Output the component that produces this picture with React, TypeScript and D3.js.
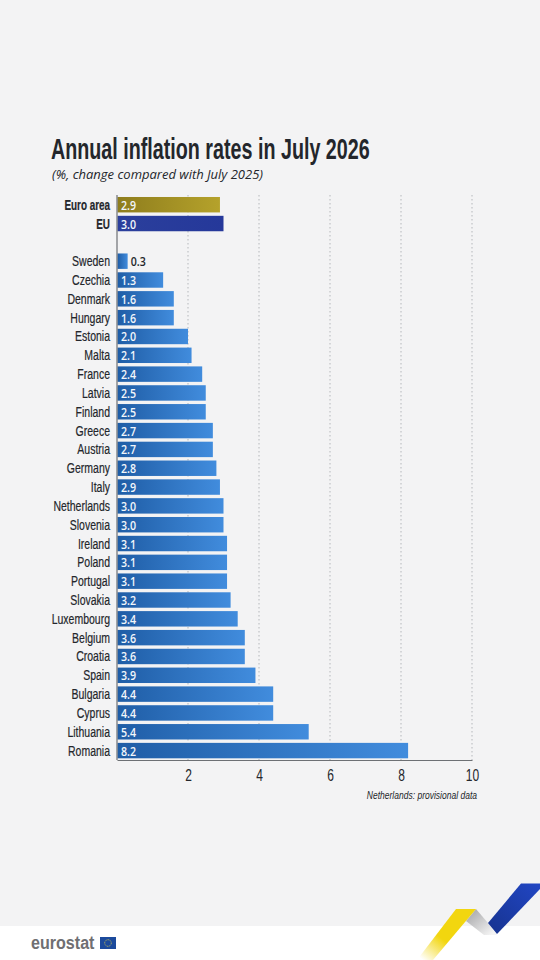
import { useEffect, useRef } from "react";
import * as d3 from "d3";

const summaryNames = ["Euro area", "EU"];
const summaryValues = [2.9, 3.0];
const countries = [
  "Sweden", "Czechia", "Denmark", "Hungary", "Estonia", "Malta", "France", "Latvia", "Finland",
  "Greece", "Austria", "Germany", "Italy", "Netherlands", "Slovenia", "Ireland", "Poland",
  "Portugal", "Slovakia", "Luxembourg", "Belgium", "Croatia", "Spain", "Bulgaria", "Cyprus",
  "Lithuania", "Romania",
];
const countryValues = [
  0.3, 1.3, 1.6, 1.6, 2.0, 2.1, 2.4, 2.5, 2.5, 2.7, 2.7, 2.8, 2.9, 3.0, 3.0, 3.1, 3.1, 3.1, 3.2,
  3.4, 3.6, 3.6, 3.9, 4.4, 4.4, 5.4, 8.2,
];
const xTicks = [2, 4, 6, 8, 10];

// no condensed font is installed, so Liberation Sans gets squeezed horizontally
const sans = "'Liberation Sans', sans-serif";
const squeeze = (px: number, py: number, k: number) => `translate(${px},${py}) scale(${k},1)`;

const App = () => {
  const svgRef = useRef<SVGSVGElement>(null);

  useEffect(() => {
    document.body.style.margin = "0";
    const svg = d3.select(svgRef.current);
    svg.selectAll("*").remove();

    const width = 540;
    const height = 960;

    const rows = [...summaryNames, "", ...countries];
    const values = [...summaryValues, NaN, ...countryValues];

    const x = d3.scaleLinear().domain([0, 10]).range([117, 472]);
    const y = d3.scaleBand().domain(rows).range([195.3, 760]).paddingInner(0.18).paddingOuter(0.09);

    const defs = svg.append("defs");
    const addGradient = (id: string, from: string, to: string) => {
      const g = defs.append("linearGradient").attr("id", id);
      g.append("stop").attr("offset", "0%").attr("stop-color", from);
      g.append("stop").attr("offset", "100%").attr("stop-color", to);
    };
    addGradient("barCountry", "#1f5da6", "#418cdd");
    addGradient("barEuro", "#8e7d1d", "#b5a22b");
    addGradient("barEu", "#2b3f9c", "#25389a");
    const fade = defs.append("linearGradient").attr("id", "ribbonYellow")
      .attr("x1", "0.75").attr("y1", "0.3").attr("x2", "0.1").attr("y2", "1");
    fade.append("stop").attr("offset", "45%").attr("stop-color", "#f2d60f");
    fade.append("stop").attr("offset", "100%").attr("stop-color", "#f2d60f").attr("stop-opacity", 0);
    const grayFade = defs.append("linearGradient").attr("id", "ribbonGray")
      .attr("x1", "0.1").attr("y1", "0.1").attr("x2", "0.9").attr("y2", "0.9");
    grayFade.append("stop").attr("offset", "0%").attr("stop-color", "#a9a9ab");
    grayFade.append("stop").attr("offset", "100%").attr("stop-color", "#f4f4f4");
    const blueFade = defs.append("linearGradient").attr("id", "ribbonBlue")
      .attr("x1", "1").attr("y1", "0").attr("x2", "0").attr("y2", "1");
    blueFade.append("stop").attr("offset", "0%").attr("stop-color", "#2146c4");
    blueFade.append("stop").attr("offset", "100%").attr("stop-color", "#17338f");

    // background panel + white footer
    svg.append("rect").attr("width", width).attr("height", height).attr("fill", "#ffffff");
    svg.append("rect").attr("width", width).attr("height", 926).attr("fill", "#f3f3f4");

    // title
    svg.append("text").attr("transform", squeeze(51, 159, 0.68))
      .attr("font-family", sans).attr("font-weight", 700).attr("font-size", 29)
      .attr("fill", "#23262b").text("Annual inflation rates in July 2026");
    svg.append("text").attr("x", 52).attr("y", 179)
      .attr("font-family", "'Open Sans', sans-serif").attr("font-style", "italic").attr("font-size", 13)
      .attr("fill", "#23262b").text("(%, change compared with July 2025)");

    // grid
    svg.append("g").selectAll("line").data(xTicks).enter().append("line")
      .attr("x1", (d) => x(d)).attr("x2", (d) => x(d))
      .attr("y1", 195).attr("y2", 760)
      .attr("stroke", "#b4b7bb").attr("stroke-width", 1).attr("stroke-dasharray", "1.5 2.5");

    // bars
    const data = rows.map((name, i) => ({ name, value: values[i] })).filter((d) => d.name !== "");
    svg.append("g").selectAll("rect").data(data).enter().append("rect")
      .attr("x", x(0) + 0.5)
      .attr("y", (d) => y(d.name)!)
      .attr("width", (d) => x(d.value) - x(0) - 0.5)
      .attr("height", y.bandwidth())
      .attr("fill", (d) =>
        d.name === "Euro area" ? "url(#barEuro)" : d.name === "EU" ? "url(#barEu)" : "url(#barCountry)"
      );

    // value labels
    svg.append("g").selectAll("text").data(data).enter().append("text")
      .attr("transform", (d) =>
        squeeze(d.value < 1 ? x(d.value) + 3 : x(0) + 4, y(d.name)! + y.bandwidth() / 2 + 5, 0.82)
      )
      .attr("font-family", "'Open Sans', sans-serif").attr("font-weight", 600).attr("font-size", 13)
      .attr("fill", (d) => (d.value < 1 ? "#23262b" : "#f2f6fb"))
      .text((d) => d.value.toFixed(1));

    // category labels
    svg.append("g").selectAll("text").data(data).enter().append("text")
      .attr("transform", (d) =>
        squeeze(110, y(d.name)! + y.bandwidth() / 2 + 5, summaryNames.includes(d.name) ? 0.66 : 0.7)
      )
      .attr("text-anchor", "end")
      .attr("font-family", sans).attr("font-size", 15)
      .attr("font-weight", (d) => (summaryNames.includes(d.name) ? 700 : 400))
      .attr("fill", "#23262b").attr("stroke", "#23262b").attr("stroke-width", 0.2)
      .text((d) => d.name);

    // axes
    svg.append("line").attr("x1", x(0)).attr("x2", x(0)).attr("y1", 195).attr("y2", 760)
      .attr("stroke", "#6d7074").attr("stroke-width", 1.2);
    const axis = svg.append("g").attr("transform", "translate(0,760)")
      .call(d3.axisBottom(x).tickValues(xTicks).tickSize(0).tickPadding(10));
    axis.select(".domain").attr("stroke", "#6d7074").attr("stroke-width", 1.2);
    axis.selectAll("text")
      .attr("transform", "scale(0.75,1)")
      .attr("font-family", sans).attr("font-size", 16).attr("fill", "#23262b");

    svg.append("text").attr("transform", squeeze(477, 799, 0.74)).attr("text-anchor", "end")
      .attr("font-family", sans).attr("font-style", "italic").attr("font-size", 11.5)
      .attr("fill", "#23262b").text("Netherlands: provisional data");

    // eurostat logo
    svg.append("text").attr("transform", squeeze(31, 949, 0.87))
      .attr("font-family", sans).attr("font-weight", 700).attr("font-size", 18.5)
      .attr("fill", "#6f6f72").text("eurostat");
    svg.append("rect").attr("x", 100).attr("y", 937).attr("width", 16).attr("height", 12).attr("fill", "#1c4a9c");
    svg.append("circle").attr("cx", 108).attr("cy", 943).attr("r", 3.3)
      .attr("fill", "none").attr("stroke", "#d9c94a").attr("stroke-width", 0.8).attr("stroke-dasharray", "1 0.7");

    // ribbon
    svg.append("path").attr("d", "M476,909 L466,921 L484,935 L497,935 L488,923 Z").attr("fill", "url(#ribbonGray)");
    svg.append("path").attr("d", "M456,909 L476,909 L433,960 L417,960 Z").attr("fill", "url(#ribbonYellow)");
    svg.append("path").attr("d", "M521,883.5 L540,883.5 L540,889 L497,934 L488,923 Z").attr("fill", "url(#ribbonBlue)");
  }, []);

  return <svg ref={svgRef} width={540} height={960} style={{ display: "block" }} />;
};

export default App;
